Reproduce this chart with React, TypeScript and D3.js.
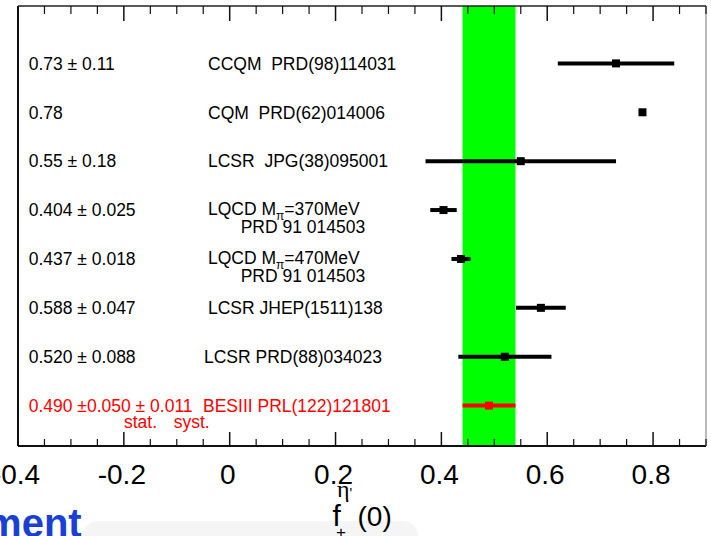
import React from "react";
import * as d3 from "d3";

// Form factor f+^{eta'}(0): theory predictions and the BESIII measurement
const valueTexts = [
  "0.73 ± 0.11",
  "0.78",
  "0.55 ± 0.18",
  "0.404 ± 0.025",
  "0.437 ± 0.018",
  "0.588 ± 0.047",
  "0.520 ± 0.088",
  "0.490 ±0.050 ± 0.011",
];
const centralValues = [0.73, 0.78, 0.55, 0.404, 0.437, 0.588, 0.52, 0.49];
const uncertainties = [0.11, 0, 0.18, 0.025, 0.018, 0.047, 0.088, 0.05];
const methods = [
  "CCQM  PRD(98)114031",
  "CQM  PRD(62)014006",
  "LCSR  JPG(38)095001",
  "LQCD",
  "LQCD",
  "LCSR JHEP(1511)138",
  "LCSR PRD(88)034023",
  "BESIII PRL(122)121801",
];
const pionMasses = ["", "", "", "=370MeV", "=470MeV", "", "", ""];
const secondLines = ["", "", "", "PRD 91 014503", "PRD 91 014503", "", "", ""];
const measuredRow = 7;
const bandCenter = 0.49;
const bandHalfWidth = 0.05;
const errorLabels = ["stat.", "syst."];

const W = 711;
const H = 536;
const FONT = "'Liberation Sans', Arial, Helvetica, sans-serif";
const LEFT = 18;
const RIGHT = 706;
const TOP = 6;
const BOTTOM = 446;

const pre: React.CSSProperties = { whiteSpace: "pre" };

export default function App() {
  const x = d3.scaleLinear().domain([-0.4, 0.9]).range([LEFT, RIGHT]);
  const y = d3
    .scalePoint<number>()
    .domain(d3.range(centralValues.length))
    .range([TOP, BOTTOM])
    .padding(1)
    .align(0.587);

  const majorTicks = x.ticks(7);
  const minorTicks = x.ticks(26).filter((t) => !majorTicks.some((m) => Math.abs(m - t) < 1e-9));
  // plain hyphen for negative labels
  const fmt = (t: number) => (Math.abs(t) < 1e-9 ? "0" : d3.format(".1f")(t).replace("\u2212", "-"));

  const labelIndent = [208, 208, 208, 208, 208, 208, 204, 203];

  return (
    <svg
      width={W}
      height={H}
      style={{ position: "absolute", left: 0, top: 0, background: "#fff" }}
      fontFamily={FONT}
    >
      {/* faint slide backdrop under the axis title */}
      <rect x={83} y={521} width={335} height={34} rx={15} fill="#f5f5f5" />

      {/* measurement band */}
      <rect
        x={x(bandCenter - bandHalfWidth)}
        y={TOP}
        width={x(bandCenter + bandHalfWidth) - x(bandCenter - bandHalfWidth)}
        height={BOTTOM - TOP}
        fill="#00ff00"
      />

      {/* frame */}
      <line x1={LEFT} x2={RIGHT} y1={TOP} y2={TOP} stroke="#222" strokeWidth={1.5} />
      <line x1={LEFT} x2={RIGHT} y1={BOTTOM} y2={BOTTOM} stroke="#111" strokeWidth={2} />
      <line x1={LEFT} x2={LEFT} y1={TOP} y2={BOTTOM} stroke="#111" strokeWidth={2} />
      <line x1={RIGHT} x2={RIGHT} y1={TOP} y2={BOTTOM} stroke="#777" strokeWidth={1} />

      {/* ticks on both horizontal edges */}
      {majorTicks.map((t) => (
        <g key={"M" + t} stroke="#111" strokeWidth={1.5}>
          <line x1={x(t)} x2={x(t)} y1={TOP} y2={TOP + 15} />
          <line x1={x(t)} x2={x(t)} y1={BOTTOM} y2={BOTTOM - 14} />
        </g>
      ))}
      {minorTicks.map((t) => (
        <g key={"m" + t} stroke="#111" strokeWidth={1.2}>
          <line x1={x(t)} x2={x(t)} y1={TOP} y2={TOP + 8} />
          <line x1={x(t)} x2={x(t)} y1={BOTTOM} y2={BOTTOM - 7} />
        </g>
      ))}
      {majorTicks.map((t) => (
        <text key={"l" + t} x={x(t) - 2} y={484} fontSize={28} textAnchor="middle" fill="#000">
          {fmt(t)}
        </text>
      ))}

      {/* error bars and central values */}
      {centralValues.map((v, i) => {
        const color = i === measuredRow ? "#ff0000" : "#000";
        const cy = y(i) as number;
        const e = uncertainties[i];
        return (
          <g key={"p" + i}>
            {e > 0 && (
              <line x1={x(v - e)} x2={x(v + e)} y1={cy} y2={cy} stroke={color} strokeWidth={4} />
            )}
            <rect x={x(v) - 4} y={cy - 4} width={8} height={8} fill={color} />
          </g>
        );
      })}

      {/* row labels */}
      {valueTexts.map((txt, i) => {
        const color = i === measuredRow ? "#ff0000" : "#000";
        const cy = y(i) as number;
        const twoLine = secondLines[i] !== "";
        return (
          <g key={"t" + i} fill={color} fontSize={17.5}>
            <text x={28.7} y={cy + 6.3} xmlSpace="preserve" style={pre}>
              {txt}
            </text>
            {twoLine ? (
              <>
                <text x={labelIndent[i]} y={cy + 4.7} xmlSpace="preserve" style={pre}>
                  {methods[i] + " M"}
                  <tspan fontSize={12} dy={5}>
                    π
                  </tspan>
                  <tspan dy={-5}>{pionMasses[i]}</tspan>
                </text>
                <text x={240.7} y={cy + 22.8} xmlSpace="preserve" style={pre}>
                  {secondLines[i]}
                </text>
              </>
            ) : (
              <text x={labelIndent[i]} y={cy + 6.3} xmlSpace="preserve" style={pre}>
                {methods[i]}
              </text>
            )}
          </g>
        );
      })}
      {/* uncertainty captions under the measurement */}
      <g fill="#ff0000" fontSize={17.5}>
        <text x={124} y={(y(measuredRow) as number) + 22.5}>
          {errorLabels[0]}
        </text>
        <text x={173.7} y={(y(measuredRow) as number) + 22.5}>
          {errorLabels[1]}
        </text>
      </g>

      {/* axis title f_+^{eta'}(0) */}
      <g fill="#000">
        <text x={332.5} y={526} fontSize={30}>
          f
        </text>
        <text x={337} y={497} fontSize={24} fontFamily="'Liberation Serif', 'DejaVu Serif', serif">
          η
        </text>
        <text x={349.5} y={498} fontSize={14}>
          '
        </text>
        <text x={336} y={538} fontSize={17}>
          +
        </text>
        <text x={357.5} y={526} fontSize={28}>
          (0)
        </text>
      </g>

      <text x={-13.9} y={537} fontSize={40} fontWeight="bold" fill="#1a3fd4">
        ment
      </text>
    </svg>
  );
}
